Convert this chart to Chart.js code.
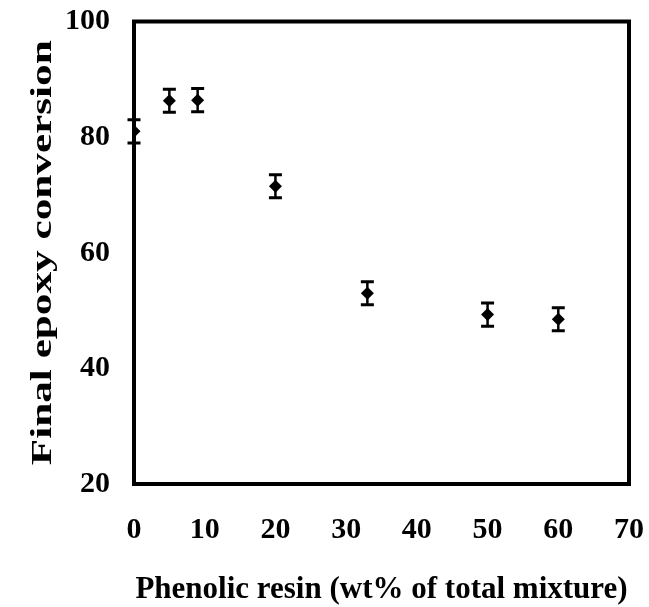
<!DOCTYPE html>
<html>
<head>
<meta charset="utf-8">
<script src="https://cdn.jsdelivr.net/npm/chart.js@4"></script>
<style>
    body { margin: 0; background: #fff; }
    canvas { display: block; }
</style>
</head>
<body>
<canvas id="chart-conversion" width="649" height="607"></canvas>
<script>
// phenolic resin content (wt%) and final epoxy conversion
const resinContent = [0, 5, 9, 20, 33, 50, 60];
const conversion = [81.0, 86.3, 86.4, 71.5, 53.0, 49.3, 48.5];
const conversionErr = [2.0, 2.0, 2.0, 2.0, 2.0, 2.0, 2.0];

const xTicks = [0, 10, 20, 30, 40, 50, 60, 70];
const yTicks = [20, 40, 60, 80, 100];

const serif = "'Liberation Serif', 'Times New Roman', serif";

// frame around the plot area
const boxPlugin = {
    id: "box",
    beforeDatasetsDraw(chart) {
        const { ctx, chartArea } = chart;
        ctx.save();
        ctx.lineWidth = 4;
        ctx.strokeStyle = "#000";
        ctx.strokeRect(
            chartArea.left,
            chartArea.top,
            chartArea.right - chartArea.left,
            chartArea.bottom - chartArea.top
        );
        ctx.restore();
    },
};

// vertical error bars with caps
const errorBarPlugin = {
    id: "errorBars",
    beforeDatasetsDraw(chart) {
        const ctx = chart.ctx;
        const xs = chart.scales.x;
        const ys = chart.scales.y;
        ctx.save();
        ctx.strokeStyle = "#000";
        resinContent.forEach((xv, i) => {
            const x = xs.getPixelForValue(xv);
            const yTop = ys.getPixelForValue(conversion[i] + conversionErr[i]);
            const yBot = ys.getPixelForValue(conversion[i] - conversionErr[i]);
            ctx.lineWidth = 2.5;
            ctx.beginPath();
            ctx.moveTo(x, yTop);
            ctx.lineTo(x, yBot);
            ctx.stroke();
            ctx.lineWidth = 3;
            ctx.beginPath();
            ctx.moveTo(x - 6.5, yTop);
            ctx.lineTo(x + 6.5, yTop);
            ctx.moveTo(x - 6.5, yBot);
            ctx.lineTo(x + 6.5, yBot);
            ctx.stroke();
        });
        ctx.restore();
    },
};

// rotated y axis title, drawn a bit stretched along its length
const yTitlePlugin = {
    id: "yTitle",
    afterDraw(chart) {
        const { ctx, chartArea } = chart;
        ctx.save();
        ctx.translate(44, (chartArea.top + chartArea.bottom) / 2);
        ctx.rotate(-Math.PI / 2);
        ctx.scale(1.49, 1);
        ctx.font = "bold 29px " + serif;
        ctx.fillStyle = "#000";
        ctx.textAlign = "center";
        ctx.textBaseline = "middle";
        ctx.fillText("Final epoxy conversion", 0, 0);
        ctx.restore();
    },
};

new Chart(document.getElementById("chart-conversion"), {
    type: "scatter",
    data: {
        datasets: [
            {
                label: "Final epoxy conversion",
                data: resinContent.map((x, i) => ({ x: x, y: conversion[i] })),
                pointStyle: "rectRot",
                pointRadius: 6.5,
                pointHoverRadius: 6.5,
                backgroundColor: "#000",
                borderColor: "#000",
                borderWidth: 0,
            },
        ],
    },
    options: {
        responsive: false,
        animation: false,
        layout: { padding: { top: 21.5, right: 20, bottom: 0, left: 0 } },
        plugins: {
            legend: { display: false },
            tooltip: { enabled: false },
        },
        scales: {
            x: {
                type: "linear",
                min: 0,
                max: 70,
                afterBuildTicks: (scale) => {
                    scale.ticks = xTicks.map((v) => ({ value: v }));
                },
                afterFit: (scale) => {
                    scale.height = 123;
                    scale.paddingLeft = 0;
                    scale.paddingRight = 0;
                },
                grid: { display: false, drawTicks: false },
                border: { display: false },
                ticks: {
                    color: "#000",
                    padding: 28,
                    font: { family: serif, size: 30, weight: "bold" },
                },
                title: {
                    display: true,
                    text: "Phenolic resin (wt% of total mixture)",
                    color: "#000",
                    padding: { top: 0, bottom: 0 },
                    font: { family: serif, size: 31, weight: "bold", lineHeight: 1.1 },
                },
            },
            y: {
                type: "linear",
                min: 20,
                max: 100,
                afterBuildTicks: (scale) => {
                    scale.ticks = yTicks.map((v) => ({ value: v }));
                },
                afterFit: (scale) => {
                    scale.width = 134;
                    scale.paddingTop = 0;
                    scale.paddingBottom = 0;
                },
                grid: { display: false, drawTicks: false },
                border: { display: false },
                ticks: {
                    color: "#000",
                    padding: 24,
                    font: { family: serif, size: 30, weight: "bold" },
                },
            },
        },
    },
    plugins: [boxPlugin, errorBarPlugin, yTitlePlugin],
});
</script>
</body>
</html>
